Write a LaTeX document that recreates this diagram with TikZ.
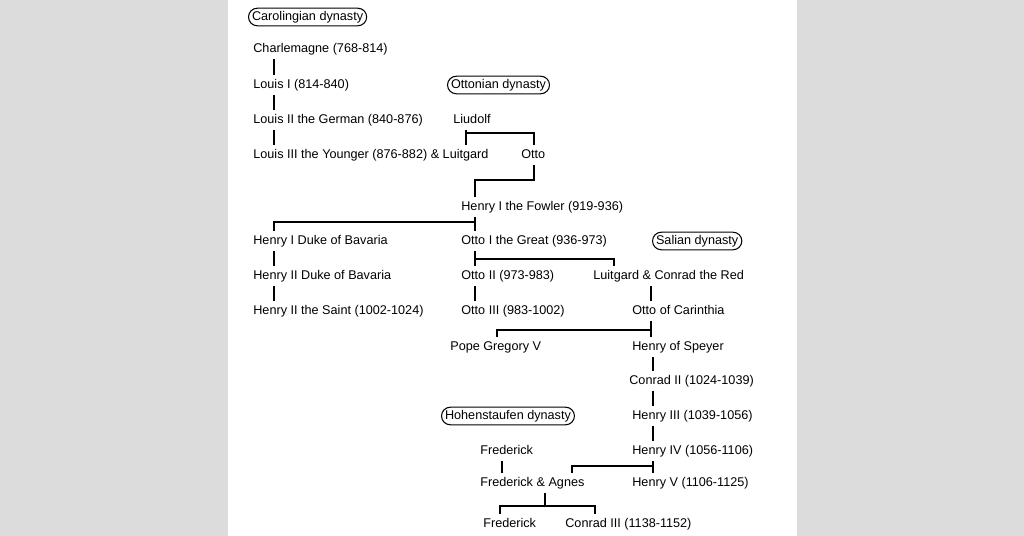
\documentclass[tikz,border=0pt]{standalone}
\usepackage{fontspec}
\setmainfont{Liberation Sans}
\usetikzlibrary{positioning}
\definecolor{pagegray}{HTML}{DCDCDC}
\tikzset{
  person/.style={anchor=west, inner xsep=0pt, inner ysep=2pt, font=\fontsize{7.2}{8}\selectfont, text height=5.5pt, text depth=1.5pt},
  dynasty/.style={person, draw, rounded corners=5pt, inner xsep=2pt, inner ysep=1.5pt, line width=0.6pt},
  line/.style={line width=0.6pt}
}
\begin{document}
\begin{tikzpicture}[x=0.02cm, y=-0.02cm]
  \fill[pagegray] (0,0) rectangle (1024,536);
  \fill[white] (228,0) rectangle (797,536);
  \useasboundingbox (0,0) rectangle (1024,536);
  % Carolingian
  \node[dynasty] (carol) at (248,17) {Carolingian dynasty};
  \node[person] (charl) at (253,49) {Charlemagne (768-814)};
  \node[person] (louisI) at (253,85) {Louis I (814-840)};
  \node[person] (louisII) at (253,120) {Louis II the German (840-876)};
  \node[person] (louisIII) at (253,155) {Louis III the Younger (876-882) \& Luitgard};
  % Ottonian
  \node[dynasty] (otton) at (447,85) {Ottonian dynasty};
  \node[person] (liudolf) at (453,120) {Liudolf};
  \node[person] (otto) at (521,155) {Otto};
  \node[person] (fowler) at (461,207) {Henry I the Fowler (919-936)};
  \node[person] (hduke) at (253,241) {Henry I Duke of Bavaria};
  \node[person] (hiiduke) at (253,276) {Henry II Duke of Bavaria};
  \node[person] (saint) at (253,311) {Henry II the Saint (1002-1024)};
  \node[person] (ottoI) at (461,241) {Otto I the Great (936-973)};
  \node[person] (ottoII) at (461,276) {Otto II (973-983)};
  \node[person] (ottoIII) at (461,311) {Otto III (983-1002)};
  % Salian
  \node[dynasty] (salian) at (652,241) {Salian dynasty};
  \node[person] (conradred) at (593,276) {Luitgard \& Conrad the Red};
  \node[person] (carinth) at (632,311) {Otto of Carinthia};
  \node[person] (gregory) at (450,347) {Pope Gregory V};
  \node[person] (speyer) at (632,347) {Henry of Speyer};
  \node[person] (conradII) at (629,381) {Conrad II (1024-1039)};
  \node[person] (henryIII) at (632,416) {Henry III (1039-1056)};
  \node[person] (henryIV) at (632,451) {Henry IV (1056-1106)};
  \node[person] (henryV) at (632,483) {Henry V (1106-1125)};
  % Hohenstaufen
  \node[dynasty] (hohen) at (441,416) {Hohenstaufen dynasty};
  \node[person] (fred) at (480,451) {Frederick};
  \node[person] (fredagnes) at (480,483) {Frederick \& Agnes};
  \node[person] (fredII) at (483,524) {Frederick};
  \node[person] (conradIII) at (565,524) {Conrad III (1138-1152)};
  % descent lines
  \draw[line] ([shift={(21,0)}]charl.south west) -- ([shift={(21,0)}]louisI.north west);
  \draw[line] ([shift={(21,0)}]louisI.south west) -- ([shift={(21,0)}]louisII.north west);
  \draw[line] ([shift={(21,0)}]louisII.south west) -- ([shift={(21,0)}]louisIII.north west);
  \draw[line] ([shift={(13,0)}]liudolf.south west) |- ([shift={(13,-12)}]otto.north west) -- ([shift={(13,0)}]otto.north west);
  \draw[line] ([shift={(13,0)}]liudolf.south west) -- ([shift={(13,0)}]liudolf.south west |- louisIII.north);
  \draw[line] ([shift={(13,0)}]otto.south west) |- ([shift={(14,-17)}]fowler.north west) -- ([shift={(14,0)}]fowler.north west);
  \draw[line] ([shift={(14,0)}]fowler.south west) -- ([shift={(14,0)}]ottoI.north west);
  \draw[line] ([shift={(14,5)}]fowler.south west) -| ([shift={(21,0)}]hduke.north west);
  \draw[line] ([shift={(21,0)}]hduke.south west) -- ([shift={(21,0)}]hiiduke.north west);
  \draw[line] ([shift={(21,0)}]hiiduke.south west) -- ([shift={(21,0)}]saint.north west);
  \draw[line] ([shift={(14,0)}]ottoI.south west) -- ([shift={(14,0)}]ottoII.north west);
  \draw[line] ([shift={(14,8)}]ottoI.south west) -| ([shift={(21,0)}]conradred.north west);
  \draw[line] ([shift={(14,0)}]ottoII.south west) -- ([shift={(14,0)}]ottoIII.north west);
  \draw[line] ([shift={(58,0)}]conradred.south west) -- ([shift={(19,0)}]carinth.north west);
  \draw[line] ([shift={(19,0)}]carinth.south west) -- ([shift={(19,0)}]speyer.north west);
  \draw[line] ([shift={(19,9)}]carinth.south west) -| ([shift={(47,0)}]gregory.north west);
  \draw[line] ([shift={(21,0)}]speyer.south west) -- ([shift={(24,0)}]conradII.north west);
  \draw[line] ([shift={(24,0)}]conradII.south west) -- ([shift={(21,0)}]henryIII.north west);
  \draw[line] ([shift={(21,0)}]henryIII.south west) -- ([shift={(21,0)}]henryIV.north west);
  \draw[line] ([shift={(21,0)}]henryIV.south west) -- ([shift={(21,0)}]henryV.north west);
  \draw[line] ([shift={(21,5)}]henryIV.south west) -| ([shift={(92,0)}]fredagnes.north west);
  \draw[line] ([shift={(22,0)}]fred.south west) -- ([shift={(22,0)}]fredagnes.north west);
  \draw[line] ([shift={(65,0)}]fredagnes.south west) -- ([shift={(65,13)}]fredagnes.south west);
  \draw[line] ([shift={(17,0)}]fredII.north west) |- ([shift={(65,13)}]fredagnes.south west) -| ([shift={(30,0)}]conradIII.north west);
\end{tikzpicture}
\end{document}
